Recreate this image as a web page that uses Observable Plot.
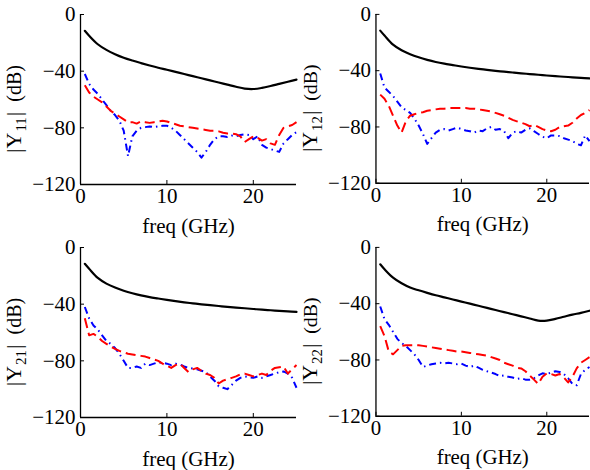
<!DOCTYPE html>
<html>
<head>
<meta charset="utf-8">
<script src="https://cdn.jsdelivr.net/npm/d3@7"></script>
<script src="https://cdn.jsdelivr.net/npm/@observablehq/plot@0.6"></script>
<style>
html, body { margin: 0; padding: 0; background: #fff; overflow: hidden; }
#root { position: relative; width: 590px; height: 470px; overflow: hidden; }
.panel { position: absolute; }
</style>
</head>
<body>
<div id="root"></div>
<script>
// Frequency grids (GHz)
const freqSmooth = [0.5,1,2,3,4,5,6,7,8,9,10,11,12,13,14,15,16,17,18,19,20,21,22,23,24,25];
const freqNoisy = [0.5,1,1.5,2,2.5,3,3.5,4,4.5,5,5.5,6,6.5,7,7.5,8,8.5,9,9.5,10,10.5,11,11.5,12,12.5,13,13.5,14,14.5,15,15.5,16,16.5,17,17.5,18,18.5,19,19.5,20,20.5,21,21.5,22,22.5,23,23.5,24,24.5,25];

const xTicks = [0, 10, 20];
const yTicks = [0, -40, -80, -120];
const xDomain = [0, 25];
const yDomain = [-120, 0];
const xLabel = "freq (GHz)";
const panelNames = ["11", "12", "21", "22"];

// |Y11|
const y11Black = [-11.5,-15,-21,-25,-28,-30.5,-32.5,-34.3,-36,-37.6,-39,-40.5,-42,-43.5,-45,-46.5,-48,-49.5,-51,-52.3,-52.6,-51.8,-50.5,-49,-47.5,-46];
const y11Red = [-50,-55,-58,-60,-62,-65,-68,-70,-72,-74,-76,-76,-77,-75.5,-76,-76.5,-76,-75.5,-75,-75.5,-76.5,-77.5,-78.5,-79,-79.5,-80,-80.5,-81,-81.5,-82,-82,-82.5,-83.5,-84,-84,-84.5,-86,-90,-88,-86,-87,-89,-88,-91,-92,-85,-80,-79,-78,-76];
const y11Blue = [-42,-49,-53,-56,-60,-64,-68,-71,-75,-82,-100,-86,-82,-80,-79.5,-79,-79.5,-79,-78.5,-78.5,-80,-82,-85,-88,-91,-94,-97,-101,-97,-92,-88,-86,-86,-86.5,-85.5,-86,-85,-84.5,-85,-88,-86,-92,-94,-95,-96,-97,-91,-88,-85,-83];

// |Y12|
const y12Black = [-11.5,-15,-21.5,-25.5,-28.3,-30.5,-32.3,-33.8,-35,-36,-37,-37.9,-38.7,-39.4,-40.1,-40.7,-41.3,-41.9,-42.4,-42.9,-43.4,-43.9,-44.3,-44.7,-45.1,-45.5];
const y12Red = [-57,-60,-65,-72,-79,-84,-76,-72,-71,-70,-69.5,-68.5,-68,-67.5,-67,-67,-66.5,-66.5,-66.5,-66.5,-66.5,-67,-67,-67.5,-68,-68.5,-69,-70,-71,-72,-73.5,-75,-76,-77,-78,-79.5,-78.5,-80,-81.5,-82.5,-83,-82,-80,-79.5,-79,-77,-74,-71.5,-70,-68];
const y12Blue = [-42,-52,-55,-58,-62,-66,-68,-70,-74,-79,-85,-92,-88,-84,-82,-81.5,-82.5,-81.5,-80.5,-81.5,-82.5,-83,-84,-82.5,-83,-81,-80,-82,-81.5,-83,-88,-84,-83,-84,-82,-81,-83,-85,-87,-88,-86,-86,-86.5,-88,-89,-90,-92,-93,-86,-90];

// |Y21|
const y21Black = [-11.5,-15,-21.5,-25.5,-28.3,-30.5,-32.3,-33.8,-35,-36,-37,-37.9,-38.7,-39.4,-40.1,-40.7,-41.3,-41.9,-42.4,-42.9,-43.4,-43.9,-44.3,-44.7,-45.1,-45.5];
const y21Red = [-50,-62,-61,-63,-66,-68,-70,-71.5,-73,-74,-75,-75.5,-76,-76.5,-77,-78,-79,-80,-82,-83.5,-85,-83,-82,-85,-88,-86,-85,-87,-89,-90,-92,-96,-94,-93,-92,-91,-89.5,-89,-90,-91,-90,-89,-90,-87,-85,-84.5,-84,-89,-86,-83];
const y21Blue = [-42,-50,-55,-58,-62,-66,-68,-71,-75,-80,-85,-85,-84,-85,-82,-83,-82,-81,-81.5,-82,-83,-82,-82.5,-84,-85,-85.5,-86,-87,-88,-91,-94,-98,-99,-100,-97,-94,-92,-91,-91.5,-92,-91,-92,-91,-90,-89,-88,-87.5,-89,-92,-99];

// |Y22|
const y22Black = [-12,-15.5,-21.5,-25.5,-28.5,-30.5,-32.3,-34,-35.5,-37,-38.5,-40,-41.5,-43,-44.5,-46,-47.5,-49,-50.5,-52,-52,-50.8,-49.3,-47.8,-46.5,-45];
const y22Red = [-56,-63,-74,-76,-73,-70,-69.5,-69.5,-69.5,-69.5,-70,-70.5,-71,-71.5,-72,-72.5,-73,-73.5,-74,-74,-74.5,-75,-75.5,-76,-76.5,-77,-78,-79,-80,-82,-83,-84,-85.5,-86,-88,-91,-94,-97,-92,-89.5,-90,-91,-90,-92.5,-96,-92,-86,-82,-80,-78];
const y22Blue = [-42,-51,-55,-60,-65,-68,-70,-73,-76,-80,-85,-84,-83,-82.5,-82,-82.5,-82,-82.5,-83,-82.5,-84,-85,-84,-85.5,-87,-88,-89,-90,-91.5,-91,-92,-92.5,-93.5,-93,-94,-94,-93,-91,-89.5,-90,-89,-88,-88.5,-90,-93,-97,-98,-90,-87,-85];

const blackSeries = [y11Black, y12Black, y21Black, y22Black];
const redSeries = [y11Red, y12Red, y21Red, y22Red];
const blueSeries = [y11Blue, y12Blue, y21Blue, y22Blue];

const root = document.getElementById("root");
const fontFamily = "'Liberation Serif', 'Times New Roman', Times, serif";

const layout = [
  {left: 0,   top: 0,   width: 297},
  {left: 296, top: 0,   width: 296},
  {left: 0,   top: 233, width: 297},
  {left: 296, top: 233, width: 296}
];

panelNames.forEach((name, p) => {
  const L = layout[p];
  const toRows = (vals, fr) => vals.map((v, i) => ({f: fr[i], v}));
  const chart = Plot.plot({
    width: L.width,
    height: 236,
    marginLeft: 80,
    marginRight: 1,
    marginTop: 14,
    marginBottom: 52,
    style: {fontFamily, fontSize: "21px", color: "black", background: "transparent", overflow: "visible"},
    x: {domain: xDomain, ticks: xTicks, tickSize: -4, tickPadding: 8, label: xLabel, labelAnchor: "center", labelOffset: 48, labelArrow: "none"},
    y: {domain: yDomain, ticks: yTicks, tickSize: -4, tickPadding: 9, label: null},
    marks: [
      Plot.ruleX([xDomain[0]], {stroke: "black", strokeWidth: 1.3}),
      Plot.ruleY([yDomain[0]], {stroke: "black", strokeWidth: 1.3}),
      Plot.line(toRows(blueSeries[p], freqNoisy), {x: "f", y: "v", stroke: "#0000ff", strokeWidth: 2, strokeDasharray: "7,4,1.5,4", strokeLinecap: "butt", strokeLinejoin: "round"}),
      Plot.line(toRows(redSeries[p], freqNoisy), {x: "f", y: "v", stroke: "#ff0000", strokeWidth: 2, strokeDasharray: "10,5", strokeLinecap: "butt", strokeLinejoin: "round"}),
      Plot.line(toRows(blackSeries[p], freqSmooth), {x: "f", y: "v", stroke: "black", strokeWidth: 2.2, curve: "catmull-rom"})
    ]
  });
  const div = document.createElement("div");
  div.className = "panel";
  div.style.left = L.left + "px";
  div.style.top = L.top + "px";
  div.appendChild(chart);
  root.appendChild(div);

  // y-axis label with subscript, as real text
  const svg = d3.select(chart);
  const t = svg.append("text")
    .attr("transform", `translate(21,${14 + 170 / 2 + 10}) rotate(-90)`)
    .attr("text-anchor", "middle")
    .attr("font-family", fontFamily)
    .attr("fill", "black");
  t.append("tspan").attr("font-size", 22).text("|Y");
  t.append("tspan").attr("font-size", 15).attr("dy", 5).attr("dx", 1).text(name);
  t.append("tspan").attr("font-size", 22).attr("dy", -5).attr("dx", 1).text("|");
  t.append("tspan").attr("font-size", 20).attr("dx", 10).text("(dB)");
});
</script>
</body>
</html>
